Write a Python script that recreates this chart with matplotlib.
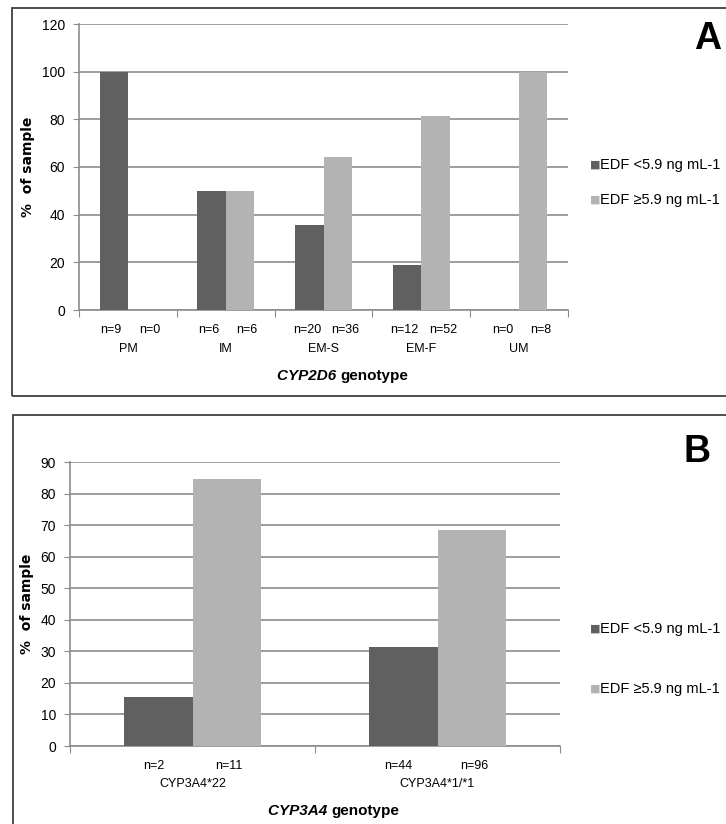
import matplotlib.pyplot as plt
from matplotlib.patches import Rectangle
from matplotlib.transforms import blended_transform_factory
import numpy as np

# Panel A data (CYP2D6)
cats_a = ['PM', 'IM', 'EM-S', 'EM-F', 'UM']
low_a = [100, 50, 35.7, 18.75, 0]
high_a = [0, 50, 64.3, 81.25, 100]
n_low_a = [9, 6, 20, 12, 0]
n_high_a = [0, 6, 36, 52, 8]

# Panel B data (CYP3A4)
cats_b = ['CYP3A4*22', 'CYP3A4*1/*1']
low_b = [15.4, 31.4]
high_b = [84.6, 68.6]
n_low_b = [2, 44]
n_high_b = [11, 96]

series_labels = ['EDF <5.9 ng mL-1', 'EDF \u22655.9 ng mL-1']
dark = '#606060'
light = '#b3b3b3'
grid_col = '#8c8c8c'

plt.rcParams['font.family'] = ['Liberation Sans', 'DejaVu Sans']

fig = plt.figure(figsize=(7.26, 8.24), dpi=100)
W, H = 726, 824


def fx(px):
    return px / W


def fy(py):
    return 1 - py / H


# panel frames
fig.patches.append(Rectangle((fx(12), fy(396)), fx(730) - fx(12), fy(8) - fy(396),
                             transform=fig.transFigure, fill=False, edgecolor='#404040', lw=1.3))
fig.patches.append(Rectangle((fx(13), fy(830)), fx(730) - fx(13), fy(415) - fy(830),
                             transform=fig.transFigure, fill=False, edgecolor='#404040', lw=1.3))


def draw_panel(ax, cats, low, high, n_low, n_high, ymax, ystep, width, n_off,
               gene, letter, leg_y):
    x = np.arange(len(cats))
    ax.bar(x - width / 2, low, width, color=dark, label=series_labels[0], zorder=3)
    ax.bar(x + width / 2, high, width, color=light, label=series_labels[1], zorder=3)
    ax.set_xlim(-0.5, len(cats) - 0.5)
    ax.set_ylim(0, ymax)
    ax.set_yticks(np.arange(0, ymax + 1, ystep))
    ax.yaxis.grid(True, color=grid_col, lw=1.2, zorder=0)
    ax.tick_params(axis='y', length=4, color=grid_col, labelsize=10, pad=6)
    ax.set_xticks(np.arange(-0.5, len(cats), 1.0))
    ax.set_xticklabels([])
    ax.tick_params(axis='x', length=5, color=grid_col)
    for s in ['top', 'right']:
        ax.spines[s].set_visible(False)
    for s in ['left', 'bottom']:
        ax.spines[s].set_color(grid_col)
        ax.spines[s].set_linewidth(1.2)
    tr = blended_transform_factory(ax.transData, ax.transAxes)
    for i in range(len(cats)):
        ax.text(x[i] + n_off[0], -0.07, 'n=%d' % n_low[i], transform=tr,
                ha='center', va='center', fontsize=9)
        ax.text(x[i] + n_off[1], -0.07, 'n=%d' % n_high[i], transform=tr,
                ha='center', va='center', fontsize=9)
        ax.text(x[i], -0.135, cats[i], transform=tr,
                ha='center', va='center', fontsize=9)
    ax.set_ylabel('%  of sample', fontsize=10, fontweight='bold',
                  family='DejaVu Sans', labelpad=5)
    ax.text(0.534, -0.23, gene + ' ', transform=ax.transAxes, ha='right', va='center',
            fontsize=11, fontweight='bold', style='italic')
    ax.text(0.534, -0.23, 'genotype', transform=ax.transAxes, ha='left', va='center',
            fontsize=11, fontweight='bold')
    fig.text(fx(leg_y[3]), fy(leg_y[2]), letter, fontsize=27, fontweight='bold',
             ha='center', va='center')
    for col, lab, yy in zip([dark, light], series_labels, leg_y[:2]):
        fig.text(fx(595), fy(yy), '\u25A0', color=col, fontsize=8,
                 ha='center', va='center', family='DejaVu Sans')
        fig.text(fx(600), fy(yy), lab, fontsize=10.5, ha='left', va='center')


ax_a = fig.add_axes([fx(79), fy(310), fx(568) - fx(79), fy(24) - fy(310)])
draw_panel(ax_a, cats_a, low_a, high_a, n_low_a, n_high_a, 120, 20, 0.29,
           (-0.17, 0.22), 'CYP2D6', 'A', (165, 200, 39, 708))

ax_b = fig.add_axes([fx(70), fy(746), fx(560) - fx(70), fy(462) - fy(746)])
draw_panel(ax_b, cats_b, low_b, high_b, n_low_b, n_high_b, 90, 10, 0.28,
           (-0.16, 0.15), 'CYP3A4', 'B', (629, 689, 452, 697))

fig.savefig('out.png', dpi=100)
